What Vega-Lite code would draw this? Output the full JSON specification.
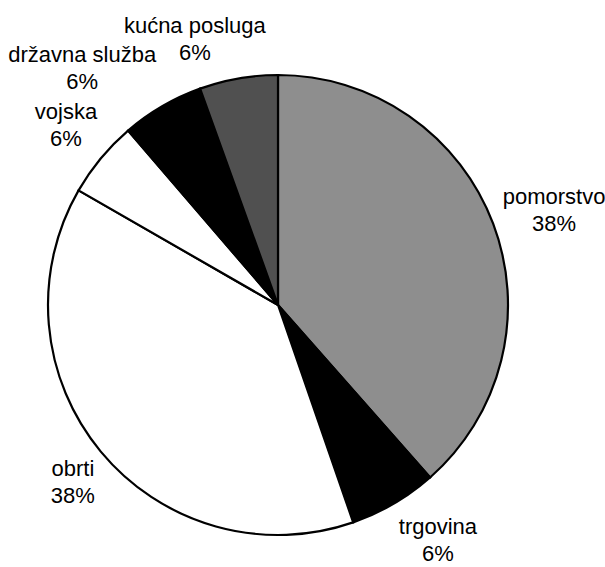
{
  "$schema": "https://vega.github.io/schema/vega-lite/v6.json",
  "width": 460,
  "height": 460,
  "autosize": {"type": "none"},
  "padding": {"left": 48, "top": 75, "right": 97, "bottom": 32},
  "background": "white",
  "config": {"view": {"stroke": null}, "text": {"font": "Liberation Sans", "fontSize": 22, "lineBreak": "\n", "lineHeight": 27, "color": "black", "align": "center", "baseline": "middle", "dy": -13.5}},
  "data": {
    "values": [
      {"category": "pomorstvo", "value": 38.5, "label": "pomorstvo\n38%", "order": 1},
      {"category": "trgovina", "value": 6.2, "label": "trgovina\n6%", "order": 2},
      {"category": "obrti", "value": 38.6, "label": "obrti\n38%", "order": 3},
      {"category": "vojska", "value": 5.4, "label": "vojska\n6%", "order": 4},
      {"category": "državna služba", "value": 5.8, "label": "državna služba\n6%", "order": 5},
      {"category": "kućna posluga", "value": 5.5, "label": "kućna posluga\n6%", "order": 6}
    ]
  },
  "encoding": {
    "theta": {"field": "value", "type": "quantitative", "stack": true},
    "order": {"field": "order", "type": "quantitative"}
  },
  "layer": [
    {
      "mark": {"type": "arc", "stroke": "black", "strokeWidth": 2.2},
      "encoding": {
        "color": {
          "field": "category",
          "type": "nominal",
          "scale": {
            "domain": ["pomorstvo", "trgovina", "obrti", "vojska", "državna služba", "kućna posluga"],
            "range": ["#8e8e8e", "#000000", "#ffffff", "#ffffff", "#000000", "#505050"]
          },
          "legend": null
        }
      }
    },
    {
      "mark": {"type": "text", "radius": 292, "thetaOffset": 0.03},
      "encoding": {"text": {"condition": {"test": "datum.order == 1", "field": "label"}, "value": ""}}
    },
    {
      "mark": {"type": "text", "radius": 285, "thetaOffset": -0.068},
      "encoding": {"text": {"condition": {"test": "datum.order == 2", "field": "label"}, "value": ""}}
    },
    {
      "mark": {"type": "text", "radius": 271, "thetaOffset": -0.021},
      "encoding": {"text": {"condition": {"test": "datum.order == 3", "field": "label"}, "value": ""}}
    },
    {
      "mark": {"type": "text", "radius": 278, "thetaOffset": 0.012},
      "encoding": {"text": {"condition": {"test": "datum.order == 4", "field": "label"}, "value": ""}}
    },
    {
      "mark": {"type": "text", "radius": 307, "thetaOffset": -0.164},
      "encoding": {"text": {"condition": {"test": "datum.order == 5", "field": "label"}, "value": ""}}
    },
    {
      "mark": {"type": "text", "radius": 278, "thetaOffset": -0.131},
      "encoding": {"text": {"condition": {"test": "datum.order == 6", "field": "label"}, "value": ""}}
    }
  ]
}
